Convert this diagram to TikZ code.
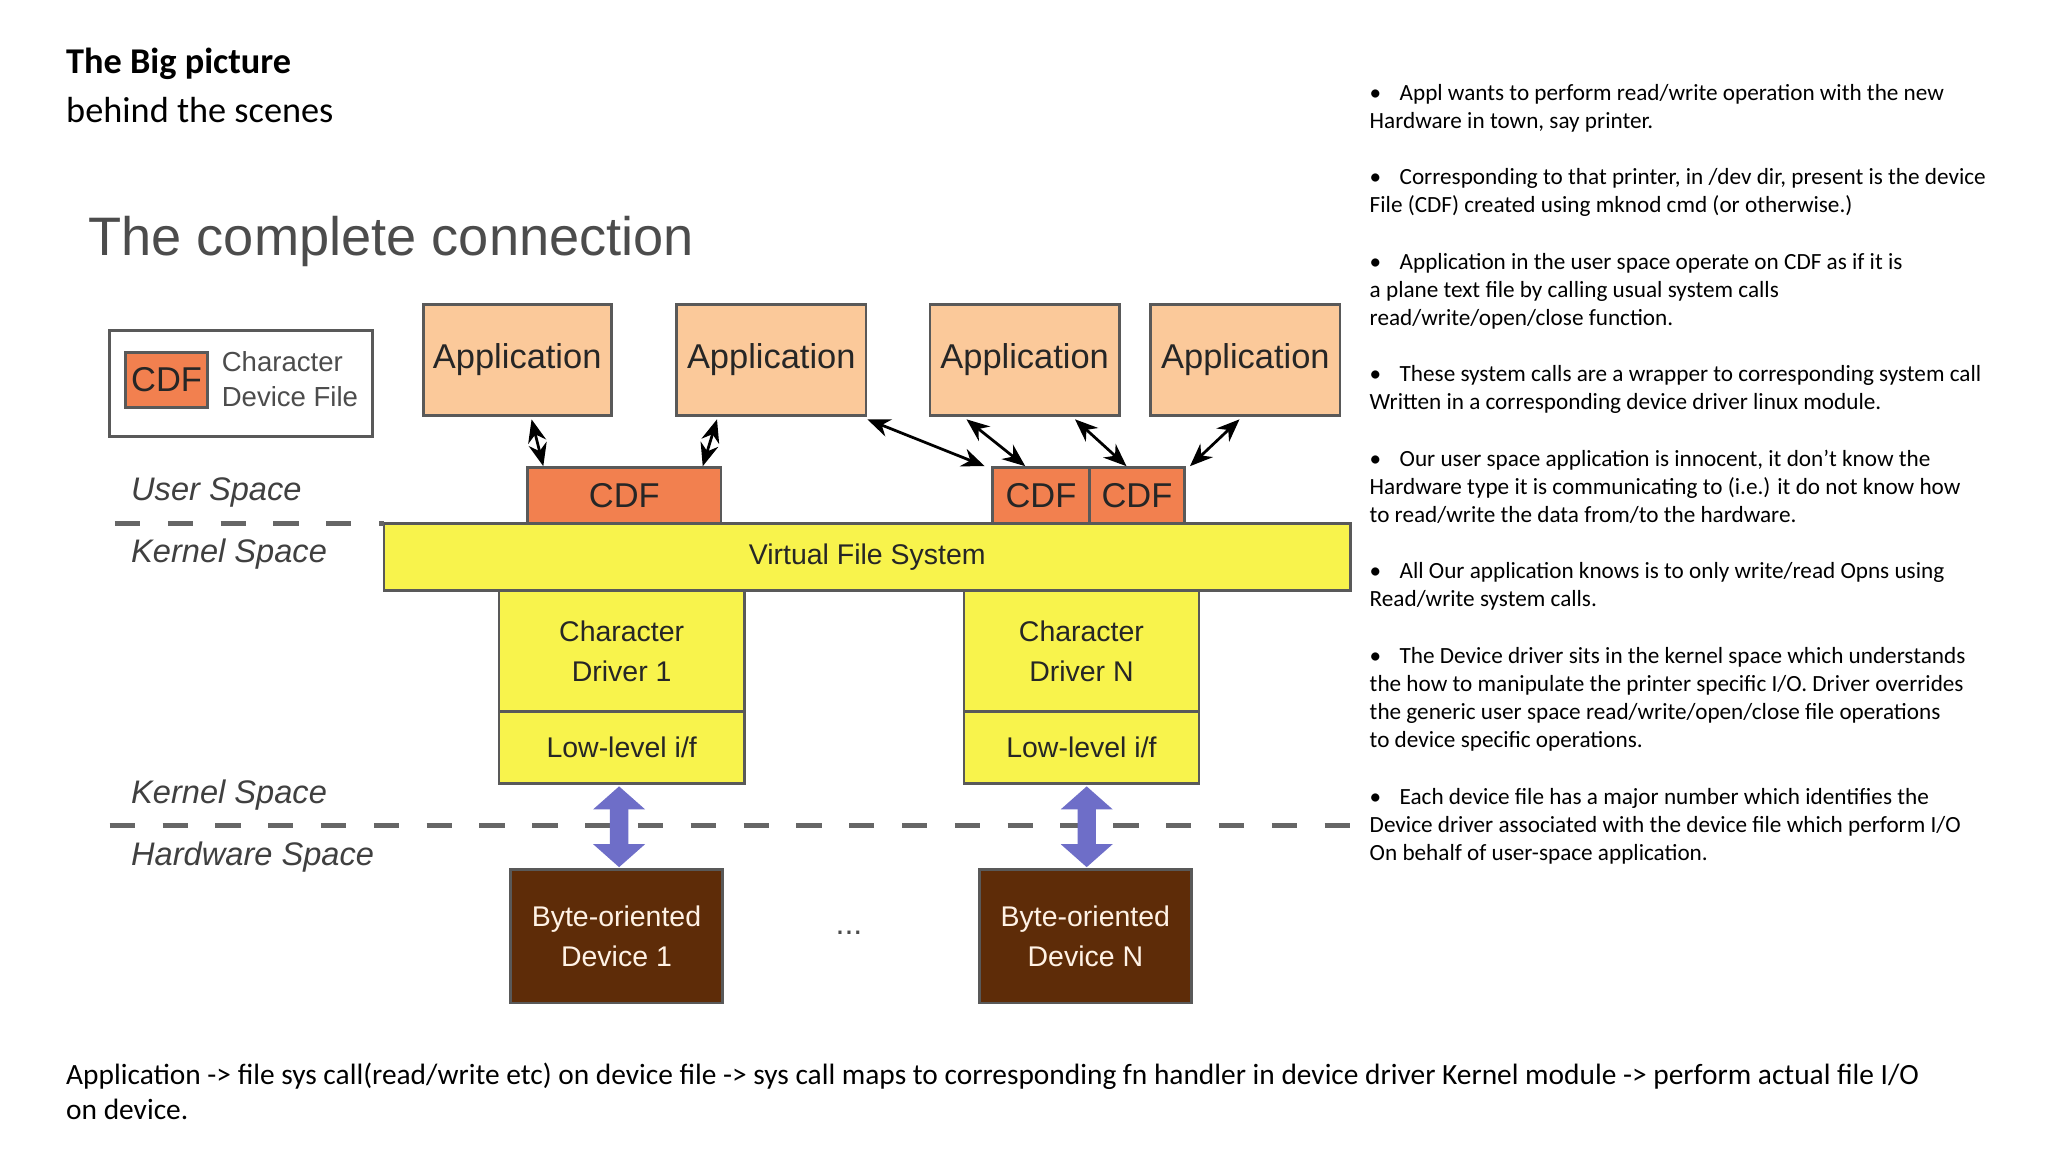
\documentclass[tikz,border=0pt]{standalone}
\usepackage{fontspec}
\setmainfont{Carlito}
\newfontfamily\hv{Liberation Sans}
\usetikzlibrary{arrows.meta}
\definecolor{appc}{HTML}{FBC99A}
\definecolor{cdfc}{HTML}{F2804F}
\definecolor{vfsc}{HTML}{F8F34C}
\definecolor{devc}{HTML}{5E2C08}
\definecolor{lblc}{HTML}{404040}
\definecolor{bluc}{HTML}{6E6EC8}
\begin{document}
\begin{tikzpicture}[x=0.01cm,y=-0.01cm,
  box/.style={draw=gray!70!black,line width=0.6pt,inner sep=0pt,font=\hv\fontsize{7.5}{9}\selectfont,text=black!85},
  app/.style={box,fill=appc},
  cdf/.style={box,fill=cdfc},
  yel/.style={box,fill=vfsc,font=\hv\fontsize{6.2}{8.6}\selectfont,align=center},
  dev/.style={box,fill=devc,text=white!90!orange,font=\hv\fontsize{6.2}{8.6}\selectfont,align=center},
  sp/.style={anchor=west,font=\hv\itshape\fontsize{7.1}{9}\selectfont,text=lblc},
  dsh/.style={draw=gray!80!black,line width=1pt,dash pattern=on 5.5pt off 6pt},
  dar/.style={{Stealth[length=5pt,width=4pt]}-{Stealth[length=5pt,width=4pt]},line width=0.6pt},
  big/.style={{Triangle[length=5pt,width=11pt]}-{Triangle[length=5pt,width=11pt]},line width=4pt,draw=bluc},
  bul/.style={anchor=north west,align=left,font=\fontsize{5.05}{6.1}\selectfont,inner sep=0pt}]
\useasboundingbox[fill=white] (0,0) rectangle (1568,882);
% titles
\node[anchor=west,font=\bfseries\fontsize{7.9}{9}\selectfont,inner sep=0pt] (t1) at (50,49) {The Big picture};
\node[anchor=west,font=\fontsize{7.9}{9}\selectfont,inner sep=0pt] (t2) at (50,84) {behind the scenes};
\node[anchor=west,font=\hv\fontsize{11.8}{13}\selectfont,text=black!70,inner sep=0pt] (t3) at (67,185) {The complete connection};
% legend
\draw[line width=0.7pt,draw=gray!70!black] (84,253) rectangle (285,334);
\node[cdf,minimum width=63*0.01cm,minimum height=42*0.01cm] (lc) at (127.5,291) {CDF};
\node[anchor=center,align=left,font=\hv\fontsize{6}{7.6}\selectfont,text=black!70,inner sep=0pt] (lt) at (222,290) {Character\\Device File};
% apps
\foreach \n/\a/\b in {a1/324/468,a2/518/663,a3/712/857,a4/881/1026}
  \node[app,minimum width={(\b-\a)*0.01cm},minimum height=85*0.01cm] (\n) at ({(\a+\b)/2},275.5) {Application};
% CDFs
\node[cdf,minimum width=148*0.01cm,minimum height=43*0.01cm] (c1) at (478,379.5) {CDF};
\node[cdf,minimum width=74*0.01cm,minimum height=43*0.01cm] (c2) at (797,379.5) {CDF};
\node[cdf,minimum width=73*0.01cm,minimum height=43*0.01cm] (c3) at (870.5,379.5) {CDF};
% VFS
\node[yel,minimum width=740*0.01cm,minimum height=51*0.01cm] (vfs) at (664,426.5) {Virtual File System};
\node[yel,minimum width=188*0.01cm,minimum height=93*0.01cm] (d1) at (476,498.5) {Character\\Driver 1};
\node[yel,minimum width=188*0.01cm,minimum height=55*0.01cm] (l1) at (476,572.5) {Low-level i/f};
\node[yel,minimum width=180*0.01cm,minimum height=93*0.01cm] (dn) at (828,498.5) {Character\\Driver N};
\node[yel,minimum width=180*0.01cm,minimum height=55*0.01cm] (ln) at (828,572.5) {Low-level i/f};
% devices
\node[dev,minimum width=162*0.01cm,minimum height=102*0.01cm] (b1) at (472,717) {Byte-oriented\\Device 1};
\node[dev,minimum width=162*0.01cm,minimum height=102*0.01cm] (bn) at (831,717) {Byte-oriented\\Device N};
\node[font=\hv\fontsize{7}{8}\selectfont,text=black!70] (dots) at (650,714) {...};
% spaces
\node[sp] (us) at (88,377) {User Space};
\node[sp] (ks1) at (88,424) {Kernel Space};
\node[sp] (ks2) at (88,609) {Kernel Space};
\node[sp] (hs) at (88,656) {Hardware Space};
\coordinate (da) at (88,401); \coordinate (db) at (294,401);
\draw[dsh] (da) -- (db);
\coordinate (dc) at (84,632); \coordinate (dd) at (1034,632);
\draw[dsh] (dc) -- (dd);
% arrows
\draw[dar] ([xshift=0.84cm,yshift=-0.02cm]a1.south west) -- ([xshift=-0.62cm]c1.north);
\draw[dar] ([xshift=0.32cm,yshift=-0.02cm]a2.south west) -- ([xshift=0.6cm]c1.north);
\draw[dar] ([yshift=-0.02cm]a2.south east) -- ([xshift=-0.05cm]c2.north west);
\draw[dar] ([xshift=0.29cm,yshift=-0.02cm]a3.south west) -- ([xshift=-0.12cm]c2.north);
\draw[dar] ([xshift=-0.35cm,yshift=-0.02cm]a3.south east) -- ([xshift=-0.08cm]c3.north);
\draw[dar] ([xshift=-0.78cm,yshift=-0.02cm]a4.south east) -- ([xshift=0.03cm]c3.north east);
\draw[big] ([xshift=-0.02cm,yshift=-0.01cm]l1.south) -- ([xshift=0.02cm,yshift=0.01cm]b1.north);
\draw[big] ([xshift=0.04cm,yshift=-0.01cm]ln.south) -- ([xshift=0.01cm,yshift=0.01cm]bn.north);
% bullets
\node[bul] (p1) at (1048,64) {\textbullet\hspace{4pt}Appl wants to perform read/write operation with the new\\Hardware in town, say printer.};
\node[bul] (p2) at (1048,128) {\textbullet\hspace{4pt}Corresponding to that printer, in /dev dir, present is the device\\File (CDF) created using mknod cmd (or otherwise.)};
\node[bul] (p3) at (1048,193) {\textbullet\hspace{4pt}Application in the user space operate on CDF as if it is\\a plane text file by calling usual system calls\\read/write/open/close function.};
\node[bul] (p4) at (1048,279) {\textbullet\hspace{4pt}These system calls are a wrapper to corresponding system call\\Written in a corresponding device driver linux module.};
\node[bul] (p5) at (1048,344) {\textbullet\hspace{4pt}Our user space application is innocent, it don’t know the\\Hardware type it is communicating to (i.e.) it do not know how\\to read/write the data from/to the hardware.};
\node[bul] (p6) at (1048,430) {\textbullet\hspace{4pt}All Our application knows is to only write/read Opns using\\Read/write system calls.};
\node[bul] (p7) at (1048,495) {\textbullet\hspace{4pt}The Device driver sits in the kernel space which understands\\the how to manipulate the printer specific I/O. Driver overrides\\the generic user space read/write/open/close file operations\\to device specific operations.};
\node[bul] (p8) at (1048,603) {\textbullet\hspace{4pt}Each device file has a major number which identifies the\\Device driver associated with the device file which perform I/O\\On behalf of user-space application.};
\node[anchor=north west,align=left,inner sep=0pt,font=\fontsize{6.4}{7.7}\selectfont] (bt) at (50,813) {Application -> file sys call(read/write etc) on device file -> sys call maps to corresponding fn handler in device driver Kernel module -> perform actual file I/O\\on device.};
\end{tikzpicture}
\end{document}
